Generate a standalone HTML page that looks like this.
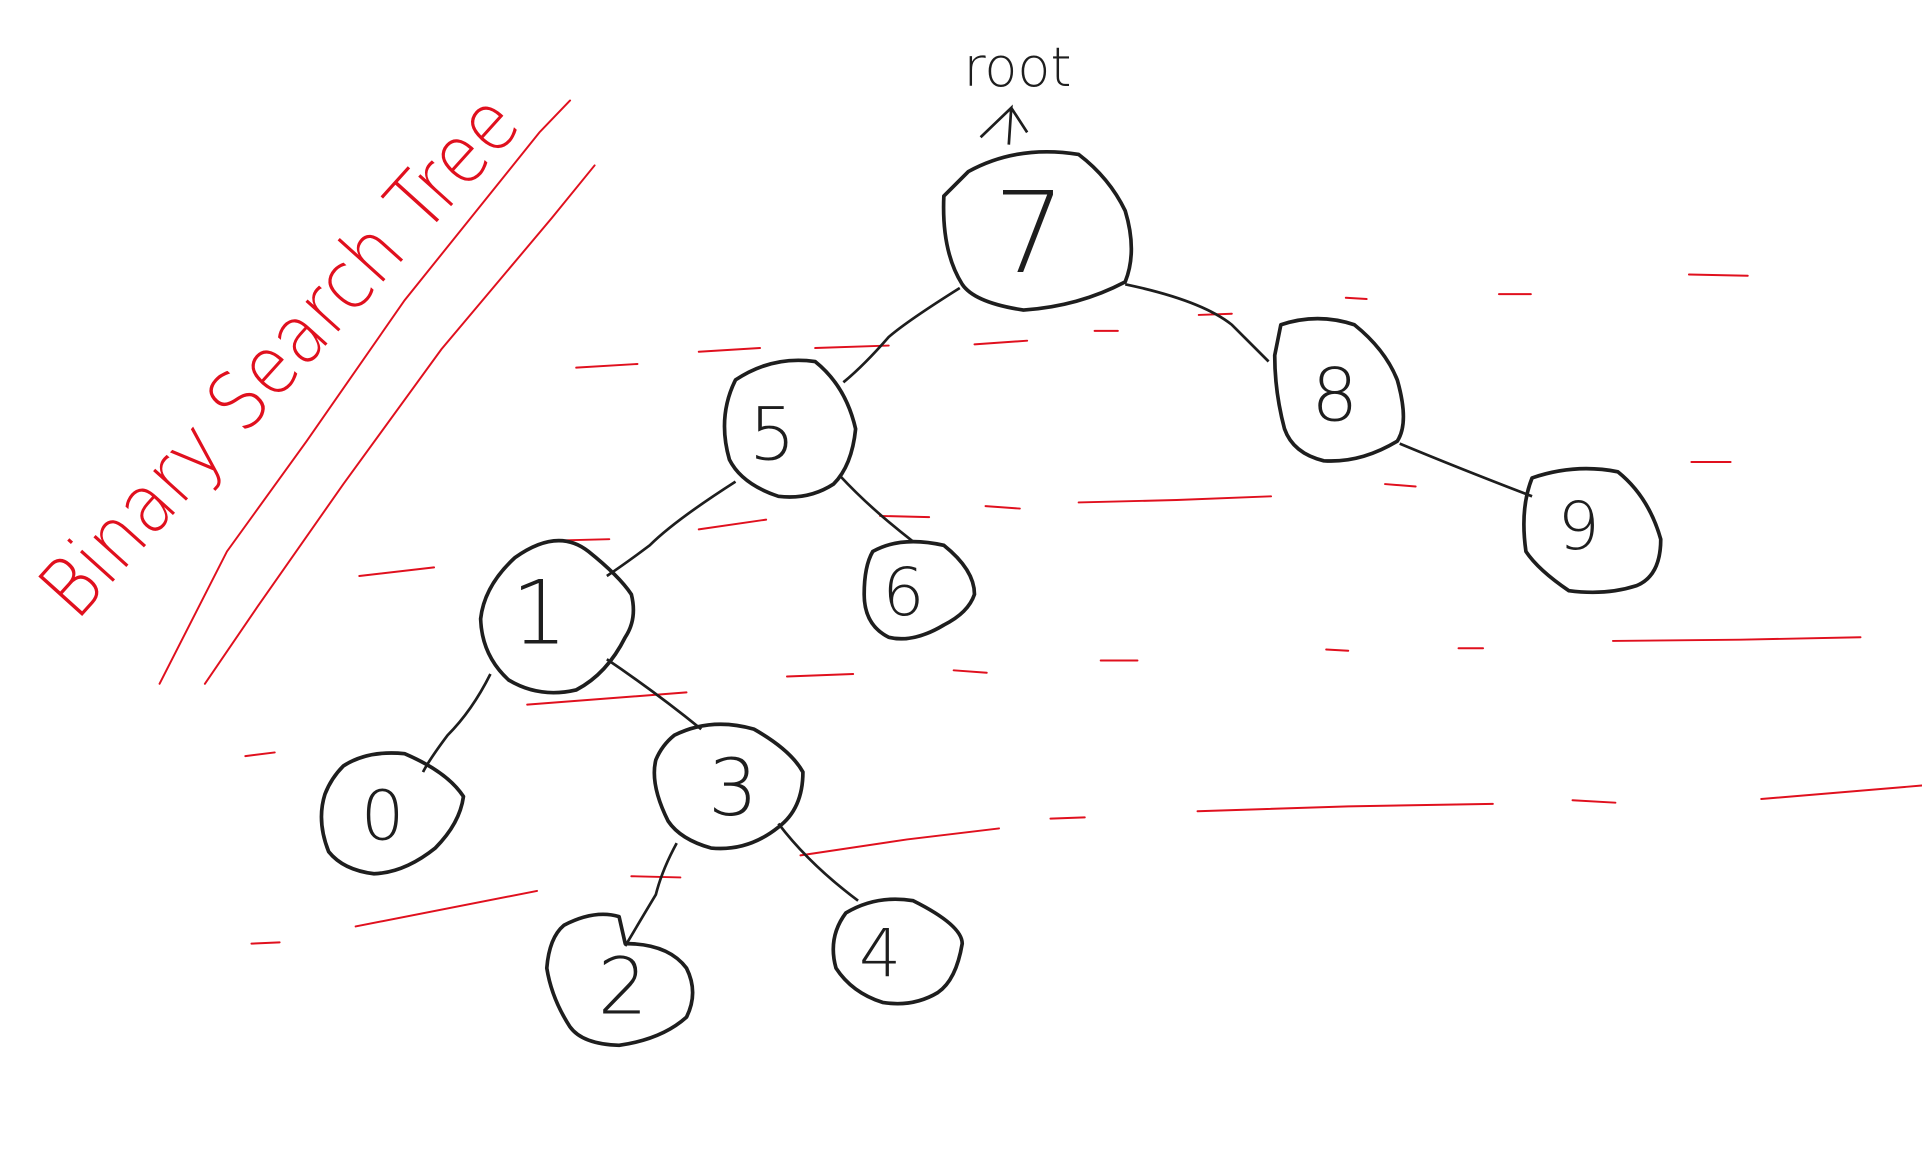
<!DOCTYPE html>
<html><head><meta charset="utf-8"><style>
html,body{margin:0;padding:0;background:#fff;width:1922px;height:1174px;overflow:hidden}
svg{display:block}
.n{fill:none;stroke:#1e1e1e;stroke-width:3;stroke-linejoin:round}
.e{fill:none;stroke:#1e1e1e;stroke-width:2.2}
.r{fill:none;stroke:#e0101e;stroke-width:1.6;stroke-linecap:round}
.t{font-family:"DejaVu Sans","Liberation Sans",sans-serif;fill:#1e1e1e;font-weight:300}
</style></head><body>
<svg width="1922" height="1174" viewBox="0 0 1568 958" xmlns="http://www.w3.org/2000/svg">
<g class="r">
<path d="M470 300 L520 297"/><path d="M570 287 L620 284"/><path d="M665 284 L725 282"/><path d="M795 281 L838 278"/>
<path d="M893 270 L912 270"/><path d="M978 257 L1005 256"/><path d="M1098 243 L1115 244"/><path d="M1223 240 L1249 240"/>
<path d="M1378 224 L1426 225"/><path d="M1380 377 L1412 377"/><path d="M1130 395 L1155 397"/><path d="M880 410 L960 408 L1037 405"/>
<path d="M804 413 L832 415"/><path d="M570 432 L625 424"/><path d="M718 421 L758 422"/><path d="M457 441 L497 440"/>
<path d="M293 470 L354 463"/><path d="M1316 523 L1420 522 L1518 520"/><path d="M1190 529 L1210 529"/><path d="M1082 530 L1100 531"/>
<path d="M898 539 L928 539"/><path d="M778 547 L805 549"/><path d="M642 552 L696 550"/><path d="M430 575 L560 565"/>
<path d="M200 617 L224 614"/><path d="M977 662 L1100 658 L1218 656"/><path d="M1283 653 L1318 655"/><path d="M1437 652 L1568 641"/>
<path d="M857 668 L885 667"/><path d="M653 698 L740 685 L815 676"/><path d="M515 715 L555 716"/><path d="M290 756 L438 727"/>
<path d="M205 770 L228 769"/>
</g>
<path class="r" d="M465 82 L440 108 L330 245 L250 360 L185 450 L130 558"/>
<path class="r" d="M485 135 L450 178 L360 285 L280 395 L210 495 L167 558"/>
<text x="0" y="0" transform="translate(62 508) rotate(-48)" font-family="'DejaVu Sans','Liberation Sans',sans-serif" font-size="66" font-weight="200" fill="#e0101e" textLength="545" lengthAdjust="spacingAndGlyphs">Binary Search Tree</text>
<text x="786" y="70" font-family="'DejaVu Sans','Liberation Sans',sans-serif" font-size="44" font-weight="200" fill="#1e1e1e">root</text>
<path class="e" d="M823 118 L825 88 L800 112 M825 88 L838 108"/>
<g class="e">
<path d="M783 235 Q740 262 725 275 Q705 298 688 312"/>
<path d="M918 232 Q980 245 1005 265 Q1025 285 1035 295"/>
<path d="M1142 362 Q1190 382 1250 405"/>
<path d="M600 393 Q550 425 530 445 Q510 460 495 470"/>
<path d="M685 388 Q710 415 745 442"/>
<path d="M400 550 Q385 580 365 600 Q350 620 345 630"/>
<path d="M495 538 Q535 565 572 595"/>
<path d="M552 688 Q540 710 535 730 Q520 755 510 772"/>
<path d="M635 672 Q660 705 700 735"/>
</g>
<g class="n">
<path d="M790 140 Q830 118 880 126 Q905 145 918 172 Q928 205 918 230 Q880 250 835 253 Q795 247 785 232 Q768 205 770 160 Z"/>
<path d="M1045 265 Q1075 255 1105 265 Q1130 285 1140 310 Q1150 345 1140 360 Q1110 378 1080 376 Q1055 370 1048 350 Q1040 320 1040 290 Z"/>
<path d="M600 310 Q630 290 665 295 Q690 315 698 350 Q695 380 680 395 Q660 408 635 405 Q605 395 595 375 Q585 340 600 310 Z"/>
<path d="M712 450 Q735 437 770 445 Q795 465 795 485 Q790 500 770 510 Q745 525 725 520 Q705 510 705 485 Q705 462 712 450 Z"/>
<path d="M1250 390 Q1285 378 1320 385 Q1345 405 1355 440 Q1355 470 1335 478 Q1310 486 1280 482 Q1255 465 1245 450 Q1240 415 1250 390 Z"/>
<path d="M420 455 Q455 430 480 450 Q505 470 515 485 Q520 505 510 520 Q495 550 470 563 Q440 570 415 555 Q393 535 392 505 Q395 478 420 455 Z"/>
<path d="M280 625 Q300 612 330 615 Q365 630 378 650 Q375 672 355 692 Q330 712 305 713 Q280 710 268 695 Q258 670 265 648 Q270 635 280 625 Z"/>
<path d="M550 600 Q580 585 615 595 Q645 612 655 630 Q655 660 635 675 Q610 695 580 692 Q555 685 545 670 Q530 640 535 620 Q540 608 550 600 Z"/>
<path d="M460 755 Q485 742 505 748 L510 770 Q545 770 560 790 Q570 810 560 830 Q540 848 505 853 Q475 852 465 838 Q450 815 446 790 Q448 765 460 755 Z"/>
<path d="M690 745 Q715 730 745 735 Q785 755 785 770 Q780 800 765 810 Q745 822 720 818 Q695 810 682 790 Q675 765 690 745 Z"/>
</g>
<g class="t" text-anchor="middle">
<text x="840" y="222" font-size="92">7</text>
<text x="1089" y="343" font-size="60">8</text>
<text x="630" y="375" font-size="60">5</text>
<text x="737" y="502" font-size="54">6</text>
<text x="1288" y="448" font-size="54">9</text>
<text x="440" y="525" font-size="72">1</text>
<text x="312" y="685" font-size="56">0</text>
<text x="598" y="665" font-size="64">3</text>
<text x="508" y="827" font-size="64">2</text>
<text x="718" y="797" font-size="54">4</text>
</g>
</svg>
</body></html>
